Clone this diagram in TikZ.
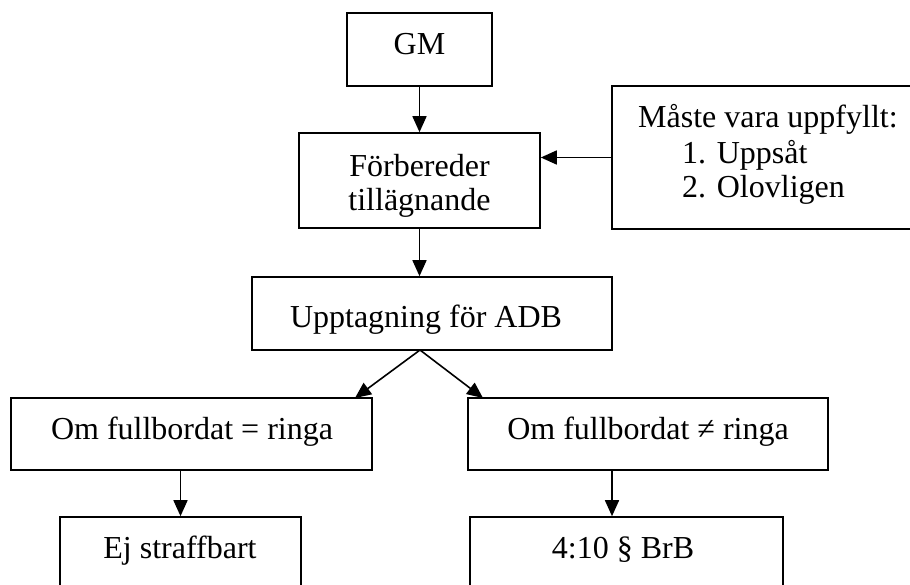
\documentclass[tikz,border=0pt]{standalone}
\usepackage{fontspec}
\setmainfont{Liberation Serif}
\usetikzlibrary{arrows.meta,calc}
\begin{document}
\begin{tikzpicture}[x=1pt,y=-1pt,
  box/.style={draw, line width=1.6pt, rectangle, inner sep=0pt},
  txt/.style={font=\fontsize{32}{36}\selectfont, anchor=base, inner sep=0pt},
  ltxt/.style={txt, anchor=base west},
  arr/.style={line width=1.6pt, -{Triangle[length=16pt,width=14pt]}}]
\useasboundingbox (0,0) rectangle (910,584);
\clip (0,0) rectangle (910,584);

% boxes
\node[box, minimum width=145pt, minimum height=73pt] (gm)  at (419.5,49.5) {};
\node[box, minimum width=241pt, minimum height=95pt] (fb)  at (419.5,180.5) {};
\node[box, minimum width=323pt, minimum height=143pt] (req) at (773.5,157.5) {};
\node[box, minimum width=360pt, minimum height=73pt] (upt) at (432,313.5) {};
\node[box, minimum width=361pt, minimum height=72pt] (lft) at (191.5,434) {};
\node[box, minimum width=360pt, minimum height=72pt] (rgt) at (648,434) {};
\node[box, minimum width=241pt, minimum height=103pt] (ej)  at (180.5,568.5) {};
\node[box, minimum width=313pt, minimum height=103pt] (brb) at (626.5,568.5) {};

% texts
\node[txt] (gmt) at (419.5,54) {GM};
\node[txt] (fbt1) at (419.5,176) {Förbereder};
\node[txt] (fbt2) at (419.5,210) {tillägnande};
\node[ltxt] (reqt1) at (638,127) {Måste vara uppfyllt:};
\node[ltxt] (reqt2) at (682,163) {1. Uppsåt};
\node[ltxt] (reqt3) at (682,197) {2. Olovligen};
\node[txt] (uptt) at (426,327) {Upptagning för ADB};
\node[txt] (lftt) at (192,439) {Om fullbordat = ringa};
\node[txt] (rgtt) at (648,439) {Om fullbordat ≠ ringa};
\node[txt] (ejt) at (180,558) {Ej straffbart};
\node[txt] (brbt) at (623,558) {4:10 § BrB};

% connectors
\coordinate (fork) at (420,350);
\coordinate (lftin) at (355,398);
\coordinate (rgtin) at (483,398);
\coordinate (rdown) at (612,470);

\draw[arr] (gm.south) -- (fb.north);
\draw[arr] (req.west) -- (fb.east |- req.west);
\draw[arr] (fb.south) -- (fb.south |- upt.north);
\draw[arr] (fork) -- (lftin);
\draw[arr] (fork) -- (rgtin);
\draw[arr] (ej.north |- lft.south) -- (ej.north);
\draw[arr] (rdown) -- (rdown |- brb.north);
\end{tikzpicture}
\end{document}
